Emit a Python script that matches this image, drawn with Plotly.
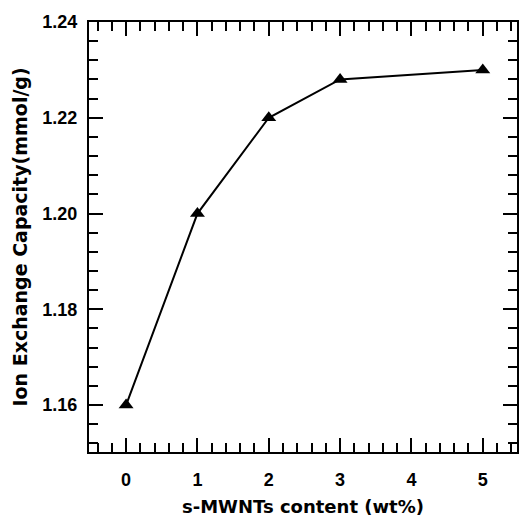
import plotly.graph_objects as go

x_vals = [0, 1, 2, 3, 5]
y_vals = [1.160, 1.200, 1.220, 1.228, 1.230]
x_title = "s-MWNTs content (wt%)"
y_title = "Ion Exchange Capacity(mmol/g)"

font = dict(family="Liberation Sans, Arial, sans-serif", size=15, color="black")

fig = go.Figure(go.Scatter(
    x=x_vals, y=y_vals, mode="lines+markers",
    line=dict(color="black", width=2),
    marker=dict(symbol="triangle-up", size=13, color="black"),
))

axis_common = dict(
    showgrid=False, zeroline=False, showline=True, linecolor="black", linewidth=2,
    mirror="allticks", ticks="inside", tickcolor="black", tickwidth=2,
    tickfont=dict(family="Liberation Sans, Arial, sans-serif", size=18, color="black", weight="bold"),
)

fig.update_layout(
    width=523, height=519,
    margin=dict(l=89, r=4, t=22, b=67),
    paper_bgcolor="white", plot_bgcolor="white",
    showlegend=False,
    font=font,
    xaxis=dict(
        range=[-0.52, 5.48], tickmode="linear", tick0=0, dtick=1, ticklen=14,
        minor=dict(dtick=0.2, tick0=0, ticklen=9, ticks="inside", tickcolor="black", tickwidth=2),
        title=dict(text=x_title, standoff=12,
                   font=dict(family="DejaVu Sans, sans-serif", size=18, color="black", weight="bold")),
        ticklabelstandoff=10,
        **axis_common,
    ),
    yaxis=dict(
        range=[1.1502, 1.24], tickmode="linear", tick0=1.16, dtick=0.02, ticklen=14,
        tickformat=".2f",
        minor=dict(dtick=0.004, tick0=1.16, ticklen=9, ticks="inside", tickcolor="black", tickwidth=2),
        title=dict(text=y_title, standoff=10,
                   font=dict(family="DejaVu Sans, sans-serif", size=19, color="black", weight="bold")),
        ticklabelstandoff=6,
        **axis_common,
    ),
)

fig.write_html("out.html")
